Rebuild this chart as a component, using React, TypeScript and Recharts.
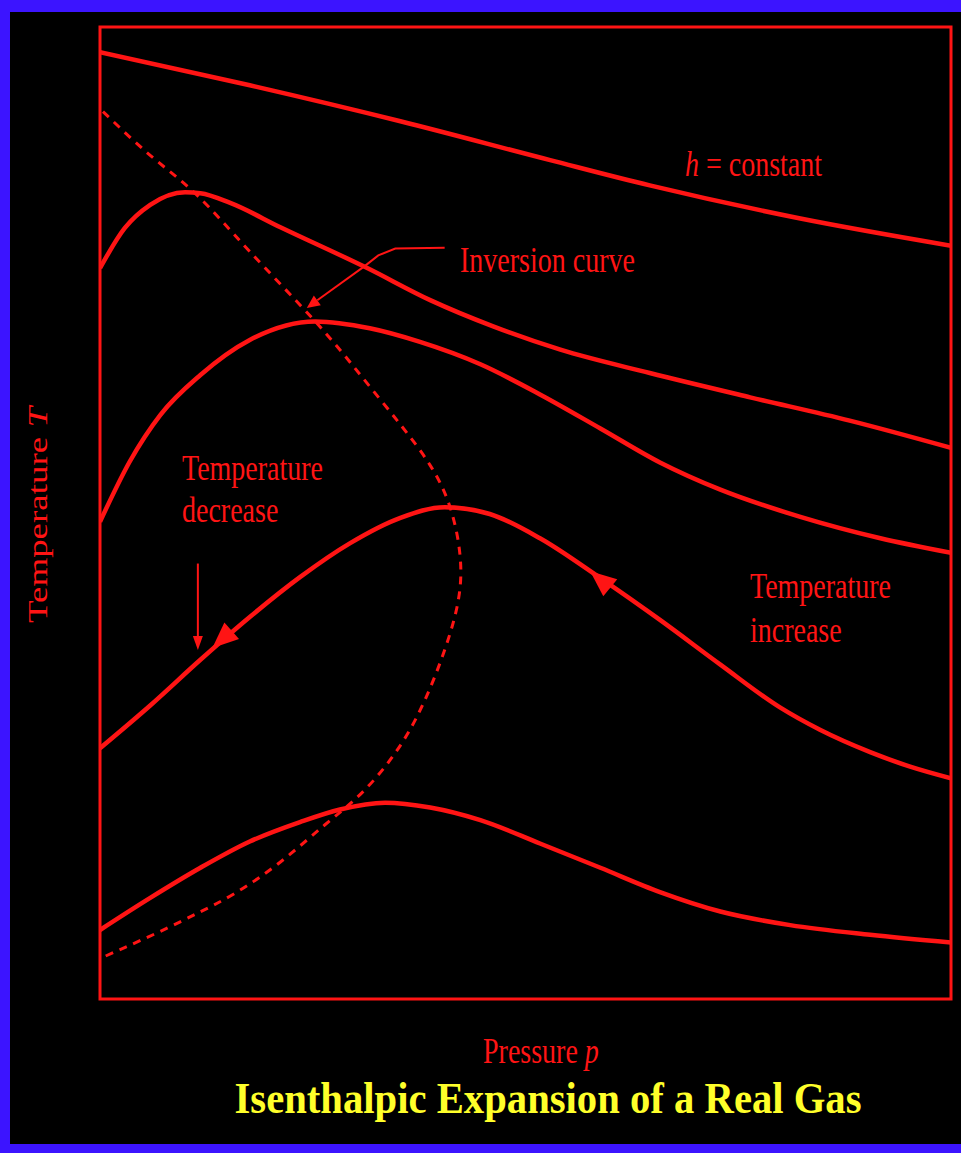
import { LineChart, Line, XAxis, YAxis, ReferenceArea, ReferenceLine } from 'recharts'

// isenthalps, top to bottom (pressure 0-100, temperature 0-100)
const p1 = [0, 17.6, 35.3, 52.9, 64.6, 82.3, 100]
const t1 = [97.4, 94.0, 90.3, 86.3, 83.7, 80.3, 77.5]

const p2 = [0, 2.9, 5.9, 10.0, 11.8, 15.3, 21.2, 31.4, 38.8, 46.2, 54.1, 64.6, 76.4, 88.1, 100]
const t2 = [75.2, 79.3, 81.7, 83.0, 82.9, 81.9, 79.4, 75.2, 71.9, 69.2, 66.8, 64.4, 61.9, 59.5, 56.7]

const p3 = [0, 3.5, 7.1, 11.8, 17.6, 25.3, 31.7, 37.6, 44.7, 51.7, 58.8, 65.8, 72.9, 82.3, 91.7, 100]
const t3 = [49.1, 55.3, 60.1, 64.2, 67.8, 69.7, 69.0, 67.6, 65.3, 62.2, 58.7, 55.2, 52.4, 49.6, 47.4, 45.9]

const p4 = [0, 5.9, 11.8, 17.6, 23.5, 29.4, 35.3, 40.5, 45.8, 51.7, 58.8, 65.8, 72.9, 79.9, 84.6, 90.5, 95.2, 100]
const t4 = [25.8, 30.2, 34.9, 39.3, 43.4, 46.9, 49.5, 50.6, 49.9, 47.4, 43.3, 39.0, 34.4, 30.0, 27.7, 25.4, 23.9, 22.7]

const p5 = [0, 5.9, 11.8, 17.6, 23.5, 28.2, 33.5, 38.8, 44.7, 51.7, 58.8, 65.8, 72.9, 81.1, 90.5, 100]
const t5 = [7.1, 10.4, 13.5, 16.2, 18.2, 19.5, 20.2, 19.7, 18.4, 16.0, 13.5, 11.0, 9.0, 7.6, 6.6, 5.8]

// inversion curve (through the maxima)
const pInv = [0.35, 5.9, 11.4, 17.6, 25.3, 30.6, 35.3, 38.8, 41.1, 42.3, 42.1, 40.5, 38.2, 35.3, 31.1, 26.4, 21.2, 15.9, 11.4, 6.7, 0.35]
const tInv = [91.3, 86.8, 82.7, 76.9, 69.7, 64.2, 59.1, 54.9, 50.7, 45.7, 41.0, 35.9, 30.8, 26.1, 21.5, 17.9, 14.1, 10.9, 8.8, 6.8, 4.3]

// leader line for the "Inversion curve" label
const pLeader = [40.5, 34.7, 32.7, 31.1]
const tLeader = [77.3, 77.2, 76.5, 75.4]

const toPoints = (xs: number[], ys: number[]) => xs.map((x, i) => ({ x, y: ys[i] }))

const RED = '#ff1414'
const BLUE = '#3c14ff'

const arrowHead = (len: number, half: number, drawLine: boolean) => (props: any) => {
	const { x1, y1, x2, y2 } = props
	const a = Math.atan2(y2 - y1, x2 - x1)
	const ux = Math.cos(a)
	const uy = Math.sin(a)
	const bx = x2 - ux * len
	const by = y2 - uy * len
	const pts = `${x2},${y2} ${bx - uy * half},${by + ux * half} ${bx + uy * half},${by - ux * half}`
	return (
		<g>
			{drawLine && <line x1={x1} y1={y1} x2={bx} y2={by} stroke={RED} strokeWidth={2} />}
			<polygon points={pts} fill={RED} />
		</g>
	)
}

const labelStyle = { fontFamily: '"Liberation Serif", "Times New Roman", serif', fontSize: 28, fill: RED }

const Label = ({ x, y, children }: { x: number; y: number; children: any }) => (
	<text transform={`translate(${x},${y}) scale(1,1.25)`} style={labelStyle}>
		{children}
	</text>
)

export default function App() {
	const curves = [toPoints(p1, t1), toPoints(p2, t2), toPoints(p3, t3), toPoints(p4, t4), toPoints(p5, t5)]
	return (
		<div style={{ position: 'fixed', left: 0, top: 0, width: 961, height: 1153, background: '#000', overflow: 'hidden' }}>
			<style>{'html,body{margin:0;background:#000;overflow:hidden}'}</style>
			<div style={{ position: 'absolute', left: 0, top: 0, width: 961, height: 12, background: BLUE }} />
			<div style={{ position: 'absolute', left: 0, top: 0, width: 10, height: 1153, background: BLUE }} />
			<div style={{ position: 'absolute', left: 0, top: 1144, width: 961, height: 9, background: BLUE }} />
			<div style={{ position: 'absolute', left: 0, top: 0 }}>
				<LineChart width={961} height={1153} margin={{ top: 27, right: 10, bottom: 154, left: 100 }}>
					<XAxis type='number' dataKey='x' domain={[0, 100]} hide allowDataOverflow />
					<YAxis type='number' dataKey='y' domain={[0, 100]} hide allowDataOverflow />
					<ReferenceArea x1={0} x2={100} y1={0} y2={100} fill='none' fillOpacity={0} stroke={RED} strokeWidth={3} />
					{curves.map((d, i) => (
						<Line
							key={i}
							data={d}
							dataKey='y'
							type='monotone'
							stroke={RED}
							strokeWidth={4.5}
							dot={false}
							activeDot={false}
							isAnimationActive={false}
						/>
					))}
					<Line
						data={toPoints(pInv, tInv)}
						dataKey='y'
						type='natural'
						stroke={RED}
						strokeWidth={3}
						strokeDasharray='8 7'
						dot={false}
						activeDot={false}
						isAnimationActive={false}
					/>
					<Line
						data={toPoints(pLeader, tLeader)}
						dataKey='y'
						type='linear'
						stroke={RED}
						strokeWidth={2}
						dot={false}
						activeDot={false}
						isAnimationActive={false}
					/>
					<ReferenceLine segment={[{ x: 31.1, y: 75.4 }, { x: 24.3, y: 71.1 }]} shape={arrowHead(13, 6, true)} />
					<ReferenceLine segment={[{ x: 11.5, y: 44.8 }, { x: 11.5, y: 35.9 }]} shape={arrowHead(14, 5, true)} />
					<ReferenceLine segment={[{ x: 15.5, y: 37.9 }, { x: 13.2, y: 36.1 }]} shape={arrowHead(26, 11, false)} />
					<ReferenceLine segment={[{ x: 60.1, y: 42.2 }, { x: 57.6, y: 44.0 }]} shape={arrowHead(26, 11, false)} />

					<Label x={685} y={176}>
						<tspan fontStyle='italic'>h</tspan> = constant
					</Label>
					<Label x={460} y={272}>Inversion curve</Label>
					<Label x={182} y={480}>Temperature</Label>
					<Label x={182} y={522}>decrease</Label>
					<Label x={750} y={598}>Temperature</Label>
					<Label x={750} y={642}>increase</Label>
					<Label x={483} y={1063}>
						Pressure <tspan fontStyle='italic'>p</tspan>
					</Label>
					<text
						transform='translate(47,623) rotate(-90)'
						style={labelStyle}
						textLength={216}
						lengthAdjust='spacingAndGlyphs'
					>
						Temperature <tspan fontStyle='italic'>T</tspan>
					</text>
					<text
						transform='translate(548,1113) scale(1,1.25)'
						textAnchor='middle'
						textLength={627}
						lengthAdjust='spacingAndGlyphs'
						style={{ fontFamily: '"Liberation Serif", "Times New Roman", serif', fontSize: 35, fontWeight: 'bold', fill: '#ffff2a' }}
					>
						Isenthalpic Expansion of a Real Gas
					</text>
				</LineChart>
			</div>
			<div style={{ position: 'absolute', left: 954, top: 12, width: 7, height: 1132, background: '#000' }} />
		</div>
	)
}
